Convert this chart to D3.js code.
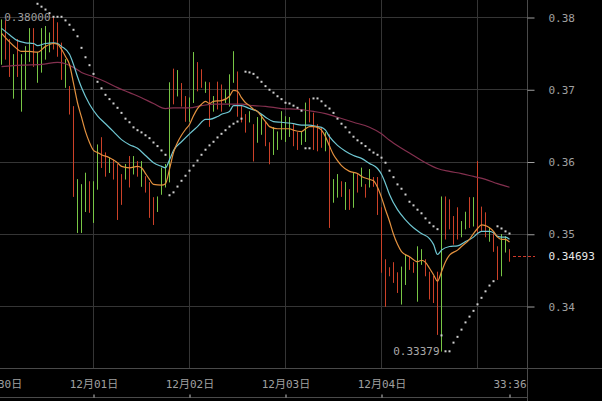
<!DOCTYPE html>
<html><head><meta charset="utf-8">
<script src="https://cdn.jsdelivr.net/npm/d3@7"></script>
<style>
html,body{margin:0;padding:0;background:#000;overflow:hidden}
svg{display:block}
text{font-family:"DejaVu Sans Mono","Noto Sans CJK SC",monospace;font-size:11px}
</style></head><body>
<svg id="c" width="602" height="401"></svg>
<script>
// ---- data (hourly candles, index 0..127) ----
const open = [.3735,.3796,.3770,.3688,.3770,.3670,.3700,.3739,.3785,.3710,
.3724,.3742,.3752,.3800,.3793,.3765,.3703,.3705,.3677,.3502,
.3502,.3531,.3573,.3516,.3562,.3634,.3613,.3585,.3603,.3597,
.3583,.3576,.3608,.3583,.3601,.3566,.3580,.3572,.3551,.3531,
.3555,.3565,.3572,.3729,.3691,.3709,.3691,.3656,.3682,.3738,
.3728,.3696,.3710,.3670,.3711,.3707,.3682,.3677,.3710,.3725,
.3677,.3666,.3655,.3652,.3627,.3638,.3655,.3627,.3610,.3617,
.3631,.3628,.3635,.3652,.3641,.3624,.3628,.3688,.3668,.3652,
.3648,.3615,.3638,.3544,.3551,.3573,.3534,.3562,.3537,.3583,
.3566,.3569,.3565,.3579,.3579,.3537,.3465,.3454,.3461,.3447,
.3403,.3430,.3469,.3461,.3407,.3458,.3465,.3448,.3442,.3448,
.33379,.3552,.3548,.3525,.3537,.3496,.3507,.3551,.3511,.3601,
.3538,.3530,.3490,.3502,.3483,.3442,.3475,.3479];
const high = [.3797,.3796,.3770,.3749,.3770,.3749,.3760,.3785,.3785,.3752,
.3785,.3788,.3779,.3800,.3793,.3765,.3742,.3705,.3677,.3576,
.3569,.3585,.3573,.3573,.3624,.3634,.3613,.3606,.3603,.3597,
.3583,.3597,.3608,.3608,.3601,.3601,.3580,.3572,.3551,.3552,
.3592,.3597,.3710,.3729,.3727,.3709,.3691,.3689,.3752,.3738,
.3728,.3711,.3710,.3691,.3711,.3707,.3700,.3721,.3753,.3725,
.3677,.3666,.3670,.3652,.3662,.3666,.3655,.3627,.3648,.3642,
.3670,.3663,.3662,.3652,.3641,.3642,.3682,.3688,.3668,.3652,
.3648,.3641,.3638,.3576,.3583,.3573,.3572,.3562,.3585,.3583,
.3592,.3569,.3590,.3579,.3579,.3537,.3465,.3454,.3461,.3447,
.3455,.3472,.3469,.3461,.3483,.3479,.3465,.3448,.3442,.3448,
.3552,.3552,.3548,.3525,.3537,.3518,.3531,.3551,.3551,.3601,
.3538,.3530,.3509,.3502,.3483,.3500,.3497,.3479];
const low = [.3735,.3742,.3718,.3688,.3718,.3670,.3700,.3739,.3732,.3710,
.3724,.3742,.3752,.3756,.3746,.3714,.3703,.3666,.3552,.3502,
.3502,.3531,.3530,.3516,.3562,.3592,.3580,.3585,.3576,.3520,
.3541,.3576,.3565,.3583,.3580,.3566,.3558,.3523,.3513,.3531,
.3555,.3565,.3572,.3680,.3691,.3677,.3656,.3656,.3682,.3698,
.3703,.3696,.3649,.3670,.3673,.3670,.3682,.3677,.3710,.3663,
.3655,.3641,.3655,.3601,.3627,.3638,.3622,.3597,.3610,.3617,
.3631,.3628,.3635,.3622,.3617,.3624,.3628,.3655,.3617,.3615,
.3620,.3615,.3509,.3544,.3551,.3552,.3534,.3534,.3537,.3558,
.3566,.3551,.3565,.3566,.3527,.3447,.3400,.3442,.3433,.3419,
.3403,.3430,.3451,.3447,.3407,.3458,.3442,.3410,.3405,.3361,
.33379,.3493,.3507,.3486,.3493,.3496,.3507,.3509,.3511,.3500,
.3504,.3496,.3490,.3476,.3437,.3442,.3475,.3462];
const close = [.3797,.3742,.3718,.3749,.3718,.3749,.3760,.3785,.3732,.3752,
.3785,.3788,.3779,.3756,.3746,.3714,.3742,.3666,.3552,.3576,
.3569,.3585,.3530,.3573,.3624,.3592,.3580,.3606,.3576,.3520,
.3541,.3597,.3565,.3608,.3580,.3601,.3558,.3523,.3513,.3552,
.3592,.3597,.3710,.3680,.3727,.3677,.3656,.3689,.3752,.3698,
.3703,.3711,.3649,.3691,.3673,.3670,.3700,.3721,.3753,.3663,
.3655,.3641,.3670,.3601,.3662,.3666,.3622,.3597,.3648,.3642,
.3670,.3663,.3662,.3622,.3617,.3642,.3682,.3655,.3617,.3615,
.3620,.3641,.3509,.3576,.3583,.3552,.3572,.3534,.3585,.3558,
.3592,.3551,.3590,.3566,.3527,.3447,.3400,.3442,.3433,.3419,
.3455,.3472,.3451,.3447,.3483,.3479,.3442,.3410,.3405,.3361,
.3552,.3493,.3507,.3486,.3493,.3518,.3531,.3509,.3551,.3500,
.3504,.3496,.3509,.3476,.3437,.3500,.3497,.34693];

// moving averages, read as [candle index, value]
const maFast = [[0,.3778],[3,.3761],[5,.3753],[7,.3753],[9,.3752],[11,.3760],[13,.3764],[14,.3763],[15,.3756],[16,.3746],[17,.3735],[18,.3709],[19,.3682],[20,.3662],[21,.3642],[22,.3627],[23,.3616],[24,.3613],[25,.3610],[27,.3606],[29,.3599],[30,.3594],[32,.3592],[34,.3594],[35,.3592],[36,.3584],[37,.3576],[38,.3569],[40,.3568],[41,.3570],[42,.3590],[43,.3613],[44,.3627],[45,.3637],[46,.3645],[47,.3652],[48,.3664],[49,.3674],[50,.3680],[51,.3684],[52,.3681],[53,.3684],[55,.3685],[57,.3691],[58,.3699],[59,.3698],[60,.3689],[61,.3682],[62,.3678],[63,.3673],[64,.3670],[65,.3663],[66,.3656],[67,.3649],[69,.3646],[72,.3646],[73,.3644],[75,.3642],[76,.3646],[77,.3649],[78,.3649],[79,.3648],[80,.3644],[81,.3635],[82,.3622],[83,.3610],[84,.3602],[85,.3595],[87,.3587],[89,.3584],[90,.3580],[92,.3576],[93,.3574],[94,.3565],[95,.3551],[96,.3534],[97,.3518],[98,.3500],[99,.3486],[100,.3476],[102,.3469],[104,.3462],[105,.3464],[106,.3461],[107,.3453],[108,.3444],[109,.3435],[110,.3448],[111,.3462],[112,.3471],[114,.3478],[115,.3483],[117,.3493],[118,.3501],[119,.3508],[120,.3513],[121,.3512],[122,.3509],[123,.3504],[124,.3496],[125,.3493],[126,.3493],[127,.3489]];
const maMid = [[0,.3785],[2,.3776],[4,.3768],[6,.3765],[8,.3764],[9,.3761],[11,.3764],[13,.3765],[14,.3764],[15,.3760],[17,.3749],[18,.3735],[19,.3718],[20,.3703],[22,.3680],[24,.3664],[26,.3653],[28,.3642],[30,.3631],[32,.3624],[34,.3619],[36,.3609],[38,.3599],[40,.3594],[41,.3592],[42,.3603],[43,.3616],[45,.3628],[47,.3639],[49,.3649],[51,.3659],[52,.3659],[54,.3663],[55,.3666],[57,.3670],[58,.3678],[60,.3678],[62,.3674],[64,.3670],[66,.3662],[68,.3656],[70,.3655],[73,.3653],[75,.3651],[77,.3651],[79,.3649],[80,.3648],[81,.3644],[82,.3635],[84,.3623],[86,.3615],[88,.3609],[90,.3605],[92,.3598],[94,.3591],[95,.3583],[96,.3570],[97,.3555],[99,.3534],[101,.3520],[103,.3509],[105,.3501],[107,.3494],[108,.3486],[109,.3472],[110,.3478],[112,.3483],[114,.3484],[116,.3490],[118,.3496],[119,.3501],[120,.3504],[122,.3504],[123,.3502],[124,.3497],[125,.3496],[126,.3496],[127,.3493]];
const maSlow = [[0,.3732],[5,.3734],[10,.3735],[14,.3738],[16,.3736],[18,.3731],[20,.3724],[23,.3718],[26,.3711],[29,.3703],[32,.3696],[35,.3689],[38,.3681],[41,.3674],[43,.3675],[47,.3675],[50,.3678],[53,.3680],[57,.3680],[60,.3680],[63,.3678],[66,.3677],[70,.3674],[74,.3673],[78,.3670],[81,.3667],[84,.3662],[88,.3655],[92,.3648],[95,.3639],[97,.3630],[100,.3619],[103,.3609],[106,.3599],[109,.3591],[112,.3587],[115,.3584],[118,.3580],[121,.3576],[124,.3570],[127,.3565]];

// parabolic SAR, one value per candle (null = none)
const sar = [null,null,null,null,null,null,null,null,null,.3819,
.3815,.3811,.3806,.3801,.3801,.3801,.3796,.3790,.3783,.3774,
.3758,.3745,.3734,.3722,.3711,.3702,.3693,.3687,.3681,.3675,
.3668,.3660,.3655,.3648,.3644,.3641,.3637,.3633,.3627,.3622,
.3616,.3610,.3554,.3558,.3566,.3574,.3581,.3588,.3595,.3602,
.3610,.3617,.3623,.3628,.3634,.3639,.3644,.3649,.3653,.3656,
.3660,.3725,.3724,.3722,.3717,.3711,.3705,.3700,.3696,.3691,
.3687,.3682,.3681,.3678,.3675,.3671,.3619,.3619,.3688,.3688,
.3684,.3678,.3674,.3668,.3660,.3653,.3648,.3641,.3635,.3630,
.3626,.3622,.3617,.3613,.3610,.3606,.3599,.3588,.3579,.3569,
.3563,.3555,.3545,.3540,.3534,.3529,.3522,.3516,.3511,.3507,
.3360,.3338,.3338,.3350,.3358,.3368,.3378,.3386,.3394,.3403,
.3412,.3421,.3429,.3435,.3511,.3508,.3504,.3501];

const yTicks = [0.34, 0.35, 0.36, 0.37, 0.38];
const xTickIdx = [-1, 23, 47, 71, 95, 127];
const xTickLabels = ["11月30日", "12月01日", "12月02日", "12月03日", "12月04日", "33:36"];
const gridIdx = [23, 47, 71, 95, 119];

// ---- drawing ----
const svg = d3.select("#c");
const plotR = 527.5, plotB = 368.5;
const x = d3.scaleLinear().domain([0, 127]).range([1.5, 509.5]);
const y = d3.scaleLinear().domain([0.34, 0.38]).range([306.5, 17.5]);
const idx = d3.range(high.length);

svg.append("rect").attr("width", 602).attr("height", 401).attr("fill", "#000");

const grid = svg.append("g").attr("stroke", "#353535").attr("stroke-width", 1);
grid.selectAll("line.h").data(yTicks).join("line").attr("class", "h")
  .attr("x1", 0).attr("x2", plotR).attr("y1", d => Math.round(y(d) - 0.5) + 0.5).attr("y2", d => Math.round(y(d) - 0.5) + 0.5);
grid.selectAll("line.v").data(gridIdx).join("line").attr("class", "v")
  .attr("y1", 0).attr("y2", plotB).attr("x1", d => x(d)).attr("x2", d => x(d));

// frame lines
svg.append("line").attr("x1", plotR).attr("x2", plotR).attr("y1", 0).attr("y2", 401).attr("stroke", "#4a4a4a");
svg.append("line").attr("x1", 0).attr("x2", 602).attr("y1", plotB).attr("y2", plotB).attr("stroke", "#4a4a4a");
svg.append("line").attr("x1", 0).attr("x2", plotR).attr("y1", 397.5).attr("y2", 397.5).attr("stroke", "#4a4a4a");

// candles
const up = "#78c645", down = "#cc4128";
const cg = svg.append("g");
cg.selectAll("line.w").data(idx).join("line").attr("class", "w")
  .attr("x1", i => x(i)).attr("x2", i => x(i))
  .attr("y1", i => y(high[i])).attr("y2", i => y(low[i]))
  .attr("stroke", i => close[i] >= open[i] ? up : down).attr("stroke-width", 1);
cg.selectAll("rect.b").data(idx).join("rect").attr("class", "b")
  .attr("x", i => x(i) - 0.5).attr("width", 1)
  .attr("y", i => y(Math.max(open[i], close[i])))
  .attr("height", i => Math.max(1, Math.abs(y(open[i]) - y(close[i]))))
  .attr("fill", i => close[i] >= open[i] ? up : down);

// moving averages
const line = d3.line().x(d => x(d[0])).y(d => y(d[1])).curve(d3.curveMonotoneX);
const clip = svg.append("clipPath").attr("id", "pc").append("rect").attr("x", 0).attr("y", 0).attr("width", plotR).attr("height", plotB);
const lg = svg.append("g").attr("clip-path", "url(#pc)").attr("fill", "none").attr("stroke-width", 1.2);
lg.append("path").datum(maSlow).attr("d", line).attr("stroke", "#84304f");
lg.append("path").datum(maMid).attr("d", line).attr("stroke", "#6fc7d2");
lg.append("path").datum(maFast).attr("d", line).attr("stroke", "#e3913f");

// SAR dots
lg.append("g").selectAll("rect").data(idx.filter(i => sar[i] != null)).join("rect")
  .attr("x", i => x(i) - 1).attr("y", i => y(sar[i]) - 1).attr("width", 2).attr("height", 2)
  .attr("fill", "#d0d0d0");

// extreme labels
const fmt5 = d3.format(".5f");
const iMax = d3.maxIndex(high), iMin = d3.minIndex(low);
svg.append("text").attr("x", x(iMax) - 3).attr("y", y(high[iMax])).attr("dy", "0.33em")
  .attr("text-anchor", "end").attr("fill", "#9c9c9c").text(fmt5(high[iMax]));
svg.append("text").attr("x", x(iMin) - 2).attr("y", y(low[iMin])).attr("dy", "0.33em")
  .attr("text-anchor", "end").attr("fill", "#a8a8a8").text(fmt5(low[iMin]));

// right axis
const ya = svg.append("g").attr("transform", `translate(${plotR},0)`)
  .call(d3.axisRight(y).tickValues(yTicks).tickSize(7).tickPadding(14).tickFormat(d3.format(".2f")));
ya.select(".domain").remove();
ya.selectAll(".tick line").attr("stroke", "#a0a0a0");
ya.selectAll(".tick text").attr("fill", "#a0a0a0").attr("font-family", null).attr("font-size", null);

// last price marker
const last = close[close.length - 1];
svg.append("line").attr("x1", 513).attr("x2", 535).attr("y1", Math.round(y(last)) + 0.5).attr("y2", Math.round(y(last)) + 0.5)
  .attr("stroke", "#d0392a").attr("stroke-dasharray", "3,2");
svg.append("text").attr("x", plotR + 21).attr("y", y(last)).attr("dy", "0.32em").attr("fill", "#e8e8e8").text(fmt5(last));

// bottom axis
const xa = svg.append("g").attr("transform", "translate(0,397.5)")
  .call(d3.axisTop(x).tickValues(xTickIdx).tickSize(3).tickPadding(6.5).tickFormat((d, i) => xTickLabels[i]));
xa.select(".domain").remove();
xa.selectAll(".tick line").attr("stroke", "#c8c8c8");
xa.selectAll(".tick text").attr("fill", "#a0a0a0").attr("font-family", null).attr("font-size", null);
</script>
</body></html>
